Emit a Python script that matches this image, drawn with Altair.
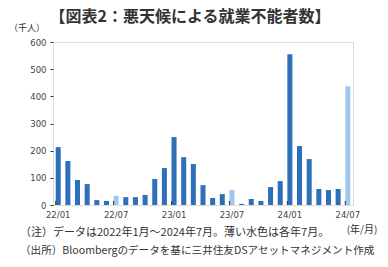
import altair as alt
import pandas as pd

months = ["22/01","22/02","22/03","22/04","22/05","22/06","22/07","22/08","22/09","22/10","22/11","22/12",
          "23/01","23/02","23/03","23/04","23/05","23/06","23/07","23/08","23/09","23/10","23/11","23/12",
          "24/01","24/02","24/03","24/04","24/05","24/06","24/07"]
values = [213, 162, 92, 77, 18, 15, 34, 29, 29, 37, 96, 136,
          250, 176, 151, 73, 26, 40, 55, 4, 22, 15, 66, 88,
          555, 217, 169, 59, 55, 59, 437]
tick_labels = ["22/01", "22/07", "23/01", "23/07", "24/01", "24/07"]
y_ticks = [0, 100, 200, 300, 400, 500, 600]

title_text = "【図表2：悪天候による就業不能者数】"
unit_text = "（千人）"
xunit_text = "(年/月)"
note1 = "（注）データは2022年1月～2024年7月。薄い水色は各年7月。"
note2 = "（出所）Bloombergのデータを基に三井住友DSアセットマネジメント作成"

df = pd.DataFrame({"month": months, "value": values})
df["july"] = df["month"].str.endswith("/07")

JP = "Noto Sans CJK JP"
NUM = "DejaVu Sans"

x_enc = alt.X("month:N", sort=months,
              scale=alt.Scale(paddingInner=0.48, paddingOuter=0.28),
              axis=alt.Axis(values=tick_labels, title=None, labelAngle=0, ticks=False,
                            labelFont=NUM, labelFontSize=8.5, labelColor="#444",
                            labelPadding=5, domain=False))

bars = alt.Chart(df).mark_bar().encode(
    x=x_enc,
    y=alt.Y("value:Q", scale=alt.Scale(domain=[0, 600], nice=False),
            axis=alt.Axis(values=y_ticks, title=None, grid=False, tickSize=3,
                          tickColor="#333", labelFont=NUM, labelFontSize=8.5,
                          labelColor="#444", labelPadding=4, domain=False)),
    color=alt.condition("datum.july", alt.value("#9fc6ee"), alt.value("#2e6fba")),
)

tick_df = pd.DataFrame({"month": tick_labels})
ticks = alt.Chart(tick_df).mark_rule(color="#333", strokeWidth=1).encode(
    x=alt.X("month:N", sort=months, bandPosition=0),
    y=alt.value(163), y2=alt.value(159),
)

def label(text, x, y, size, weight="normal", align="left", color="#333"):
    return alt.Chart(pd.DataFrame({"t": [text]})).mark_text(
        font=JP, fontSize=size, fontWeight=weight, align=align, baseline="middle",
        color=color,
    ).encode(text="t:N", x=alt.value(x), y=alt.value(y))

texts = [
    label(title_text, 137, -25, 16, "bold", "center", "#333"),
    label(unit_text, -26, -14, 9, "normal", "center", "#333"),
    label(xunit_text, 309, 188, 10, "normal", "center", "#333"),
    label(note1, -33, 191, 11, "normal", "left", "#333"),
    label(note2, -33, 209, 10.6, "normal", "left", "#333"),
]

chart = alt.layer(bars, ticks, *texts).properties(
    width=300, height=163,
    autosize=alt.AutoSizeParams(type="none"),
    padding={"left": 53, "top": 42, "right": 35, "bottom": 62},
).configure_view(stroke="#333", strokeWidth=1).configure(background="white")

chart.save("out.html", embed_options={"renderer": "svg", "actions": False})
